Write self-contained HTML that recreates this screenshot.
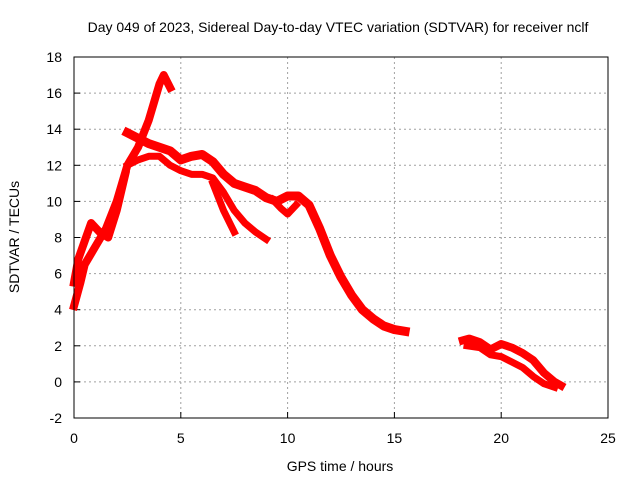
<!DOCTYPE html>
<html><head><meta charset="utf-8"><style>
body{margin:0;background:#fff}
text{font-family:"Liberation Sans",sans-serif;font-size:14px;fill:#000}
</style></head><body>
<svg id="chart" width="640" height="480" xmlns="http://www.w3.org/2000/svg">
<text x="338" y="32" text-anchor="middle">Day 049 of 2023, Sidereal Day-to-day VTEC variation (SDTVAR) for receiver nclf</text>
<g id="grid"></g>
<g id="ticks"></g>
<g id="series"></g>
<rect x="74" y="57" width="534" height="361" fill="none" stroke="#000" stroke-width="1"/>
<text x="340" y="471" text-anchor="middle">GPS time / hours</text>
<text transform="translate(19,237) rotate(-90)" text-anchor="middle">SDTVAR / TECUs</text>
</svg>
<script>
const xTicks=[0,5,10,15,20,25];
const yTicks=[-2,0,2,4,6,8,10,12,14,16,18];
const trackA_t=[0,0.3,0.5,1,1.5,2,2.5,3,3.5,4,4.2,4.5];
const trackA_v=[4.2,5.5,6.5,7.5,8.5,10,12,13,14.5,16.5,17,16.3];
const trackA2_t=[0,0.2,0.5,0.8,1.2,1.6,2,2.4];
const trackA2_v=[5.5,6.8,7.8,8.8,8.3,8.0,9.5,11.5];
const trackB_t=[2.5,3,3.5,4,4.5,5,5.5,6,6.5,7,7.5,8,8.5,9,9.5,10,10.5,11,11.5,12,12.5,13,13.5,14,14.5,15,15.5];
const trackB_v=[13.8,13.5,13.2,13,12.8,12.3,12.5,12.6,12.2,11.5,11,10.8,10.6,10.2,10,10.3,10.3,9.8,8.5,7,5.8,4.8,4,3.5,3.1,2.9,2.8];
const trackC_t=[2.5,3,3.5,4,4.5,5,5.5,6,6.5,7,7.5,8,8.5,9];
const trackC_v=[12,12.3,12.5,12.5,12,11.7,11.5,11.5,11.3,10.5,9.5,8.8,8.3,7.9];
const trackD_t=[6.5,7,7.5];
const trackD_v=[11,9.5,8.3];
const trackE_t=[9.3,9.7,10,10.4];
const trackE_v=[10.1,9.6,9.3,9.8];
const trackF_t=[18.2,18.5,19,19.5,20,20.5,21,21.5,22,22.5,22.8];
const trackF_v=[2.3,2.4,2.2,1.8,2.1,1.9,1.6,1.2,0.5,0,-0.2];
const trackG_t=[18.4,19,19.5,20,20.5,21,21.5,22,22.5];
const trackG_v=[2.0,1.9,1.5,1.4,1.1,0.8,0.3,-0.1,-0.3];
const tracks=[[trackA_t,trackA_v,8],[trackA2_t,trackA2_v,8],[trackB_t,trackB_v,9],[trackC_t,trackC_v,7],[trackD_t,trackD_v,7],[trackE_t,trackE_v,7],[trackF_t,trackF_v,8],[trackG_t,trackG_v,7]];
const X0=74,X1=608,Y0=418,Y1=57;
const sx=t=>X0+(t-0)/25*(X1-X0);
const sy=v=>Y0-(v+2)/20*(Y0-Y1);
const NS="http://www.w3.org/2000/svg";
const grid=document.getElementById('grid'),ticks=document.getElementById('ticks'),series=document.getElementById('series');
function mk(tag,attrs,parent){const e=document.createElementNS(NS,tag);for(const k in attrs)e.setAttribute(k,attrs[k]);parent.appendChild(e);return e;}
xTicks.forEach(t=>{
  const x=sx(t);
  if(t>0&&t<25){const g=mk('line',{x1:x,y1:Y1,x2:x,y2:Y0,stroke:'#a0a0a0','stroke-dasharray':'2,3'},grid);
  
  }
  const l=mk('text',{x:x,y:443,'text-anchor':'middle'},ticks);l.textContent=t;
  
  
  mk('line',{x1:x,y1:Y0,x2:x,y2:Y0-6,stroke:'#000'},ticks);
});
yTicks.forEach(v=>{
  const y=sy(v);
  if(v>-2&&v<18){const g=mk('line',{x1:X0,y1:y,x2:X1,y2:y,stroke:'#a0a0a0','stroke-dasharray':'2,3'},grid);
  
  }
  const l=mk('text',{x:62,y:y+5,'text-anchor':'end'},ticks);l.textContent=v;
  
  
  mk('line',{x1:X0,y1:y,x2:X0+6,y2:y,stroke:'#000'},ticks);
});
tracks.forEach(([ts,vs,w])=>{
  const pts=ts.map((t,i)=>sx(t)+','+sy(vs[i])).join(' ');
  const p=mk('polyline',{points:pts,fill:'none',stroke:'#ff0000','stroke-width':w,'stroke-linejoin':'round','stroke-linecap':'square'},series);
  
  
});
</script>
</body></html>
